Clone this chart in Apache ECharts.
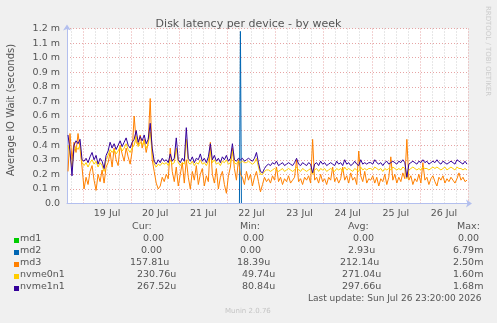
<!DOCTYPE html>
<html>
<head>
<meta charset="utf-8">
<title>Disk latency per device - by week</title>
<script src="https://cdn.jsdelivr.net/npm/echarts@6/dist/echarts.min.js"></script>
<style>
html, body { margin: 0; padding: 0; background: #f0f0f0; }
#chart { width: 497px; height: 323px; }
</style>
</head>
<body>
<div id="chart"></div>
<script>
// hours since 18 Jul 16:00, one value per hour, in milliseconds
var md1Hours = [0.5, 199.5];
var md1Ms = [0, 0];
var md2Hours = [0.5, 86, 86.5, 87, 199.5];
var md2Ms = [0, 0, 1.18, 0, 0];

var md3Ms = [
  0.22, 0.48, 0.30, 0.42, 0.35, 0.48, 0.38, 0.25, 0.10, 0.18,
  0.13, 0.22, 0.26, 0.16, 0.09, 0.20, 0.15, 0.23, 0.14, 0.25,
  0.28, 0.35, 0.25, 0.38, 0.30, 0.26, 0.40, 0.34, 0.29, 0.38,
  0.32, 0.27, 0.36, 0.60, 0.42, 0.40, 0.47, 0.38, 0.44, 0.35,
  0.42, 0.72, 0.30, 0.22, 0.14, 0.10, 0.12, 0.18, 0.15, 0.20,
  0.17, 0.38, 0.22, 0.15, 0.25, 0.12, 0.20, 0.28, 0.14, 0.30,
  0.18, 0.10, 0.22, 0.16, 0.26, 0.13, 0.20, 0.24, 0.12, 0.19,
  0.15, 0.42, 0.20, 0.14, 0.24, 0.10, 0.18, 0.22, 0.13, 0.07,
  0.19, 0.25, 0.38, 0.24, 0.16, 0.30, 0.20, 0.18, 0.13, 0.22,
  0.16, 0.20, 0.12, 0.18, 0.22, 0.15, 0.08, 0.13, 0.18, 0.15,
  0.17, 0.14, 0.19, 0.16, 0.25, 0.15, 0.18, 0.13, 0.17, 0.15,
  0.19, 0.14, 0.16, 0.18, 0.30, 0.15, 0.17, 0.13, 0.18, 0.16,
  0.19, 0.14, 0.44, 0.16, 0.18, 0.14, 0.20, 0.15, 0.17, 0.13,
  0.18, 0.16, 0.25, 0.15, 0.18, 0.14, 0.17, 0.25, 0.16, 0.19,
  0.14, 0.21, 0.16, 0.18, 0.13, 0.36, 0.19, 0.15, 0.22, 0.14,
  0.17, 0.16, 0.19, 0.14, 0.18, 0.12, 0.17, 0.15, 0.20, 0.13,
  0.18, 0.32, 0.16, 0.20, 0.14, 0.18, 0.15, 0.21, 0.17, 0.44,
  0.16, 0.19, 0.13, 0.17, 0.15, 0.20, 0.14, 0.28, 0.16, 0.18,
  0.13, 0.17, 0.19, 0.15, 0.12, 0.18, 0.16, 0.19, 0.14, 0.17,
  0.15, 0.18, 0.16, 0.14, 0.17, 0.21, 0.16, 0.18, 0.15, 0.16
];

var nvme0n1Ms = [
  0.40, 0.33, 0.25, 0.36, 0.39, 0.37, 0.40, 0.28, 0.26, 0.28,
  0.25, 0.28, 0.30, 0.27, 0.29, 0.25, 0.28, 0.26, 0.22, 0.30,
  0.33, 0.37, 0.35, 0.37, 0.34, 0.36, 0.39, 0.36, 0.38, 0.41,
  0.37, 0.35, 0.38, 0.40, 0.46, 0.39, 0.42, 0.40, 0.43, 0.38,
  0.41, 0.49, 0.34, 0.27, 0.25, 0.27, 0.26, 0.28, 0.27, 0.28,
  0.26, 0.30, 0.27, 0.28, 0.38, 0.28, 0.26, 0.28, 0.27, 0.44,
  0.28, 0.27, 0.29, 0.26, 0.28, 0.27, 0.30, 0.27, 0.28, 0.26,
  0.29, 0.36, 0.28, 0.30, 0.27, 0.28, 0.26, 0.29, 0.28, 0.30,
  0.27, 0.28, 0.36, 0.28, 0.27, 0.29, 0.28, 0.29, 0.28, 0.28,
  0.29, 0.28, 0.27, 0.28, 0.31, 0.25, 0.20, 0.20, 0.22, 0.23,
  0.23, 0.22, 0.23, 0.24, 0.23, 0.22, 0.23, 0.24, 0.22, 0.23,
  0.24, 0.23, 0.22, 0.23, 0.25, 0.23, 0.22, 0.24, 0.23, 0.22,
  0.23, 0.24, 0.20, 0.23, 0.24, 0.22, 0.24, 0.23, 0.24, 0.22,
  0.23, 0.24, 0.23, 0.22, 0.24, 0.23, 0.24, 0.22, 0.25, 0.23,
  0.24, 0.23, 0.22, 0.24, 0.23, 0.22, 0.25, 0.23, 0.24, 0.23,
  0.24, 0.24, 0.23, 0.25, 0.24, 0.23, 0.24, 0.22, 0.24, 0.23,
  0.24, 0.23, 0.25, 0.24, 0.23, 0.24, 0.23, 0.25, 0.24, 0.17,
  0.23, 0.24, 0.25, 0.24, 0.23, 0.24, 0.23, 0.25, 0.24, 0.24,
  0.23, 0.24, 0.25, 0.24, 0.25, 0.24, 0.23, 0.24, 0.25, 0.23,
  0.24, 0.25, 0.24, 0.23, 0.25, 0.24, 0.24, 0.23, 0.24, 0.23
];

var nvme1n1Ms = [
  0.47, 0.36, 0.19, 0.40, 0.43, 0.41, 0.44, 0.30, 0.29, 0.31,
  0.28, 0.32, 0.35, 0.30, 0.33, 0.27, 0.31, 0.29, 0.24, 0.33,
  0.36, 0.42, 0.38, 0.41, 0.37, 0.40, 0.43, 0.39, 0.42, 0.45,
  0.40, 0.38, 0.42, 0.44, 0.50, 0.42, 0.46, 0.43, 0.47, 0.41,
  0.44, 0.55, 0.38, 0.29, 0.27, 0.30, 0.28, 0.31, 0.29, 0.30,
  0.28, 0.34, 0.29, 0.31, 0.45, 0.30, 0.28, 0.31, 0.29, 0.52,
  0.31, 0.29, 0.32, 0.28, 0.31, 0.30, 0.34, 0.29, 0.31, 0.28,
  0.32, 0.41, 0.30, 0.33, 0.29, 0.31, 0.28, 0.32, 0.30, 0.33,
  0.29, 0.31, 0.41, 0.30, 0.29, 0.31, 0.30, 0.31, 0.29, 0.30,
  0.31, 0.30, 0.29, 0.31, 0.35, 0.28, 0.22, 0.21, 0.24, 0.26,
  0.27, 0.26, 0.28, 0.27, 0.29, 0.26, 0.27, 0.28, 0.26, 0.27,
  0.28, 0.27, 0.26, 0.28, 0.31, 0.27, 0.26, 0.28, 0.27, 0.26,
  0.28, 0.27, 0.21, 0.27, 0.28, 0.26, 0.29, 0.27, 0.28, 0.26,
  0.27, 0.28, 0.27, 0.26, 0.29, 0.27, 0.28, 0.26, 0.30, 0.27,
  0.28, 0.26, 0.27, 0.29, 0.27, 0.26, 0.30, 0.27, 0.28, 0.27,
  0.28, 0.28, 0.27, 0.30, 0.28, 0.27, 0.28, 0.26, 0.28, 0.29,
  0.27, 0.28, 0.29, 0.28, 0.27, 0.29, 0.28, 0.30, 0.28, 0.18,
  0.27, 0.28, 0.29, 0.28, 0.27, 0.29, 0.28, 0.30, 0.28, 0.29,
  0.27, 0.28, 0.29, 0.28, 0.30, 0.28, 0.27, 0.29, 0.28, 0.27,
  0.28, 0.29, 0.28, 0.27, 0.30, 0.29, 0.28, 0.27, 0.29, 0.27
];

// axis ticks (hours since 18 Jul 16:00)
var noonHours = [20, 44, 68, 92, 116, 140, 164, 188];
var dayLabels = ['19 Jul', '20 Jul', '21 Jul', '22 Jul', '23 Jul', '24 Jul', '25 Jul', '26 Jul'];
var midnightHours = [8, 32, 56, 80, 104, 128, 152, 176, 200];
var sixHourMarks = [2, 14, 20, 26, 38, 44, 50, 62, 68, 74, 86, 92, 98, 110, 116, 122,
  134, 140, 146, 158, 164, 170, 182, 188, 194];
var yTickLabels = ['0.0', '0.1 m', '0.2 m', '0.3 m', '0.4 m', '0.5 m', '0.6 m',
  '0.7 m', '0.8 m', '0.9 m', '1.0 m', '1.1 m', '1.2 m'];

// legend table
var names = ['md1', 'md2', 'md3', 'nvme0n1', 'nvme1n1'];
var colors = ['#00cc00', '#0066b3', '#ff8000', '#ffcc00', '#330099'];
var curVals = ['0.00', '0.00', '157.81u', '230.76u', '267.52u'];
var minVals = ['0.00', '0.00', '18.39u', '49.74u', '80.84u'];
var avgVals = ['0.00', '2.93u', '212.14u', '271.04u', '297.66u'];
var maxVals = ['0.00', '6.79m', '2.50m', '1.60m', '1.68m'];

var FONT = 'DejaVu Sans';
var TXT = '#555555';
var GRID_RED = '#e6a4a4';
var GRID_GREY = '#cfcfcf';
var AXIS_COL = '#b3bfee';

function hourly(arr) {
  return arr.map(function (v, i) { return [i + 0.5, v]; });
}
function pairs(xs, ys) {
  return xs.map(function (x, i) { return [x, ys[i]]; });
}

var chart = echarts.init(document.getElementById('chart'), null, { renderer: 'canvas' });

// legend text positions
var rowY = [239, 251, 263, 275, 287];
var colX = {
  cur: [143, 141, 130, 137, 137],
  min: [243, 240, 237, 242, 242],
  avg: [353, 348, 340, 342, 342],
  max: [458, 453, 453, 453, 453]
};
var LEG_FONT = '9.5px ' + FONT;

function txt(x, y, s, font, fill) {
  return {
    type: 'text', x: x, y: y, silent: true,
    style: { text: s, font: font, fill: fill, textAlign: 'left', textVerticalAlign: 'middle' }
  };
}

var graphics = [];
graphics.push(txt(132, 227, 'Cur:', LEG_FONT, TXT));
graphics.push(txt(240, 227, 'Min:', LEG_FONT, TXT));
graphics.push(txt(348, 227, 'Avg:', LEG_FONT, TXT));
graphics.push(txt(457, 227, 'Max:', LEG_FONT, TXT));
for (var i = 0; i < names.length; i++) {
  graphics.push({
    type: 'rect', silent: true,
    shape: { x: 14, y: rowY[i] - 1, width: 5, height: 5 },
    style: { fill: colors[i] }
  });
  graphics.push(txt(20, rowY[i], names[i], LEG_FONT, TXT));
  graphics.push(txt(colX.cur[i], rowY[i], curVals[i], LEG_FONT, TXT));
  graphics.push(txt(colX.min[i], rowY[i], minVals[i], LEG_FONT, TXT));
  graphics.push(txt(colX.avg[i], rowY[i], avgVals[i], LEG_FONT, TXT));
  graphics.push(txt(colX.max[i], rowY[i], maxVals[i], LEG_FONT, TXT));
}
graphics.push(txt(308, 299, 'Last update: Sun Jul 26 23:20:00 2026', '9px ' + FONT, TXT));
graphics.push(txt(225, 311, 'Munin 2.0.76', '7px ' + FONT, '#c4c4c4'));
graphics.push({
  type: 'text', x: 11, y: 110, rotation: Math.PI / 2, silent: true,
  style: { text: 'Average IO Wait (seconds)', font: '10px ' + FONT, fill: TXT,
    textAlign: 'center', textVerticalAlign: 'middle' }
});
graphics.push({
  type: 'text', x: 488, y: 51, rotation: -Math.PI / 2, silent: true,
  style: { text: 'RRDTOOL / TOBI OETIKER', font: '7px ' + FONT, fill: '#cccccc',
    textAlign: 'center', textVerticalAlign: 'middle' }
});

var hiddenX = {
  type: 'value', min: 0, max: 200,
  axisLine: { show: false }, axisLabel: { show: false }
};

var option = {
  backgroundColor: '#f0f0f0',
  animation: false,
  title: {
    text: 'Disk latency per device - by week',
    left: 'center', top: 14,
    textStyle: { fontFamily: FONT, fontSize: 11, fontWeight: 'normal', color: TXT }
  },
  // half-pixel bottom edge so the zero lines sit exactly under the axis line
  grid: {
    left: 67, right: 29, top: 28.5, bottom: 119.5,
    show: true, backgroundColor: '#ffffff', borderWidth: 0
  },
  xAxis: [
    {
      type: 'value', min: 0, max: 200, z: 5,
      axisLine: {
        show: true, lineStyle: { color: AXIS_COL, width: 1 },
        symbol: ['none', 'arrow'], symbolSize: [6, 6], symbolOffset: [0, 4]
      },
      axisTick: { show: false },
      axisLabel: {
        customValues: noonHours, margin: 5,
        fontFamily: FONT, fontSize: 9.5, color: TXT,
        formatter: function (v) { return dayLabels[noonHours.indexOf(v)]; }
      },
      splitLine: { show: false }
    },
    Object.assign({}, hiddenX, {
      axisTick: { show: false, customValues: sixHourMarks },
      splitLine: { show: true, lineStyle: { color: GRID_GREY, type: [1, 2], width: 1 } }
    }),
    Object.assign({}, hiddenX, {
      axisTick: { show: false, customValues: midnightHours },
      splitLine: { show: true, lineStyle: { color: GRID_RED, type: [1, 2], width: 1 } }
    })
  ],
  yAxis: {
    type: 'value', min: 0, max: 1.2, interval: 0.1,
    axisLine: {
      show: true, lineStyle: { color: AXIS_COL, width: 1 },
      symbol: ['none', 'arrow'], symbolSize: [6, 6], symbolOffset: [0, 4]
    },
    axisTick: { show: false },
    axisLabel: {
      margin: 7, fontFamily: FONT, fontSize: 9.5, color: TXT,
      formatter: function (v) { return yTickLabels[Math.round(v * 10)]; }
    },
    splitLine: { show: true, lineStyle: { color: GRID_RED, type: [1, 2], width: 1 } }
  },
  graphic: graphics,
  series: [
    { name: 'md1', data: pairs(md1Hours, md1Ms), color: colors[0] },
    { name: 'md2', data: pairs(md2Hours, md2Ms), color: colors[1] },
    { name: 'md3', data: hourly(md3Ms), color: colors[2] },
    { name: 'nvme0n1', data: hourly(nvme0n1Ms), color: colors[3] },
    { name: 'nvme1n1', data: hourly(nvme1n1Ms), color: colors[4] }
  ].map(function (s) {
    return {
      name: s.name, type: 'line', data: s.data, xAxisIndex: 0,
      showSymbol: false, symbol: 'none',
      lineStyle: { color: s.color, width: 1 },
      itemStyle: { color: s.color }
    };
  })
};

chart.setOption(option);
</script>
</body>
</html>
